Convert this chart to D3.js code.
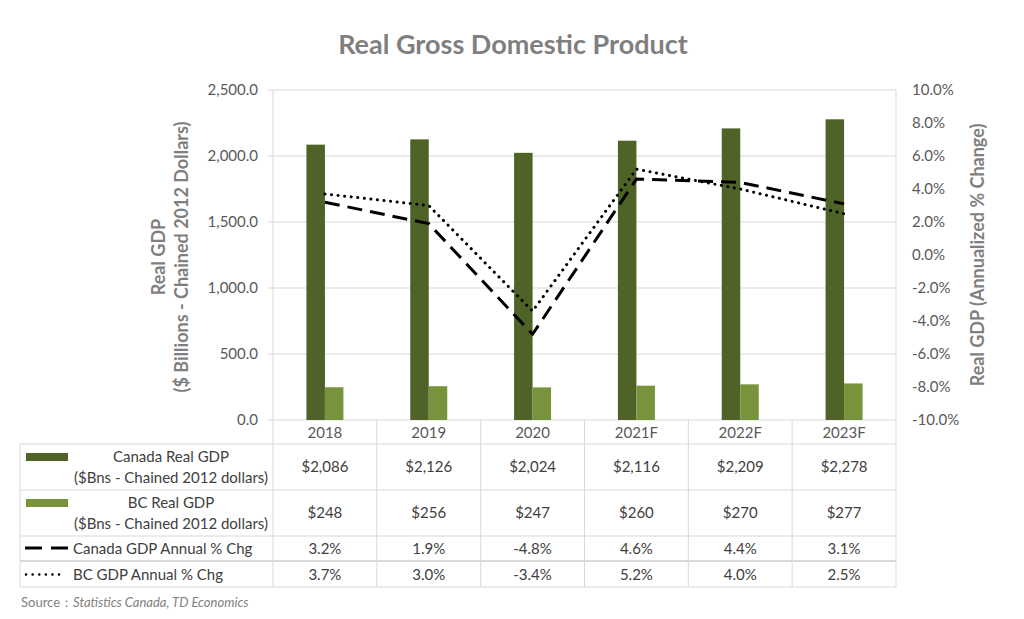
<!DOCTYPE html>
<html>
<head>
<meta charset="utf-8">
<script src="https://cdn.jsdelivr.net/npm/d3@7"></script>
<style>
  body { margin: 0; background: #fff; }
  text { font-family: Lato, "Open Sans", sans-serif; }
</style>
</head>
<body>
<div id="chart"></div>
<script>
// Data
var years = ["2018", "2019", "2020", "2021F", "2022F", "2023F"];
var canadaGdp = [2086, 2126, 2024, 2116, 2209, 2278];
var bcGdp = [248, 256, 247, 260, 270, 277];
var canadaChg = [3.2, 1.9, -4.8, 4.6, 4.4, 3.1];
var bcChg = [3.7, 3.0, -3.4, 5.2, 4.0, 2.5];
var leftTicks = [0, 500, 1000, 1500, 2000, 2500];
var rightTicks = [-10, -8, -6, -4, -2, 0, 2, 4, 6, 8, 10];

// Svg dimensions
var svgWidth = 1024;
var svgHeight = 619;

// Plot area
var plot = { left: 273, right: 896, top: 90, bottom: 420 };

var darkGreen = "#4f6228";
var lightGreen = "#77933c";
var gridColor = "#d9d9d9";
var textColor = "#595959";
var titleColor = "#7f7f7f";

// hyphen-minus like the original
var locale = d3.formatLocale({ decimal: ".", thousands: ",", grouping: [3], currency: ["$", ""], minus: "-" });
var fmt1 = locale.format(".1f");
var fmtComma = locale.format(",");
var fmtComma1 = locale.format(",.1f");

var svg = d3.select("#chart").append("svg")
    .attr("width", svgWidth)
    .attr("height", svgHeight);

// Scales
var xScale = d3.scaleBand()
    .domain(years)
    .range([plot.left, plot.right])
    .padding(0);

var yLeft = d3.scaleLinear()
    .domain([0, 2500])
    .range([plot.bottom, plot.top]);

var yRight = d3.scaleLinear()
    .domain([-10, 10])
    .range([plot.bottom, plot.top]);

var barW = 18.5;

// Title
svg.append("text")
    .attr("x", 513)
    .attr("y", 54)
    .attr("text-anchor", "middle")
    .attr("font-size", "27px")
    .attr("font-weight", "bold")
    .attr("fill", titleColor)
    .text("Real Gross Domestic Product");

// Gridlines (left axis)
svg.append("g")
    .selectAll("line")
    .data(leftTicks)
    .enter()
    .append("line")
    .attr("x1", plot.left - 5)
    .attr("x2", plot.right)
    .attr("y1", d => yLeft(d))
    .attr("y2", d => yLeft(d))
    .attr("stroke", gridColor)
    .attr("stroke-width", 1);

// Plot left/right borders
svg.append("line")
    .attr("x1", plot.left).attr("x2", plot.left)
    .attr("y1", plot.top).attr("y2", plot.bottom)
    .attr("stroke", gridColor);
svg.append("line")
    .attr("x1", plot.right).attr("x2", plot.right)
    .attr("y1", plot.top).attr("y2", plot.bottom)
    .attr("stroke", gridColor);

// Left axis
var leftAxis = d3.axisLeft(yLeft)
    .tickValues(leftTicks)
    .tickFormat(fmtComma1)
    .tickSize(0)
    .tickPadding(15);

var gLeft = svg.append("g")
    .attr("transform", `translate(${plot.left}, 0)`)
    .call(leftAxis);
gLeft.select(".domain").remove();
gLeft.selectAll("text")
    .attr("font-size", "15px")
    .attr("fill", textColor)
    .style("font-family", "Lato, sans-serif");

// Right axis
var rightAxis = d3.axisRight(yRight)
    .tickValues(rightTicks)
    .tickFormat(d => fmt1(d) + "%")
    .tickSize(0)
    .tickPadding(16);

var gRight = svg.append("g")
    .attr("transform", `translate(${plot.right}, 0)`)
    .call(rightAxis);
gRight.select(".domain").remove();
gRight.selectAll("text")
    .attr("font-size", "15px")
    .attr("fill", textColor)
    .style("font-family", "Lato, sans-serif");

// Axis titles
var leftTitle = svg.append("text")
    .attr("transform", "translate(165, 257) rotate(-90)")
    .attr("text-anchor", "middle")
    .attr("font-size", "18px")
    .attr("font-weight", "bold")
    .attr("fill", titleColor);
leftTitle.append("tspan").attr("x", 0).attr("y", 0).text("Real GDP");
leftTitle.append("tspan").attr("x", 0).attr("y", 23).text("($ Billions - Chained 2012 Dollars)");

svg.append("text")
    .attr("transform", "translate(984, 255) rotate(-90)")
    .attr("text-anchor", "middle")
    .attr("font-size", "18px")
    .attr("font-weight", "bold")
    .attr("fill", titleColor)
    .text("Real GDP (Annualized % Change)");

// Bars
svg.append("g")
    .selectAll("rect")
    .data(years)
    .enter()
    .append("rect")
    .attr("x", (d, i) => xScale(d) + xScale.bandwidth() / 2 - barW)
    .attr("y", (d, i) => yLeft(canadaGdp[i]))
    .attr("width", barW)
    .attr("height", (d, i) => yLeft(0) - yLeft(canadaGdp[i]))
    .attr("fill", darkGreen);

svg.append("g")
    .selectAll("rect")
    .data(years)
    .enter()
    .append("rect")
    .attr("x", (d, i) => xScale(d) + xScale.bandwidth() / 2)
    .attr("y", (d, i) => yLeft(bcGdp[i]))
    .attr("width", barW)
    .attr("height", (d, i) => yLeft(0) - yLeft(bcGdp[i]))
    .attr("fill", lightGreen);

// Lines
var line = d3.line()
    .x(d => xScale(d.year) + xScale.bandwidth() / 2)
    .y(d => yRight(d.value));

var canadaPts = years.map((y, i) => ({ year: y, value: canadaChg[i] }));
var bcPts = years.map((y, i) => ({ year: y, value: bcChg[i] }));

svg.append("path")
    .datum(canadaPts)
    .attr("d", line)
    .attr("fill", "none")
    .attr("stroke", "#000")
    .attr("stroke-width", 3)
    .attr("stroke-dasharray", "15 8");

svg.append("path")
    .datum(bcPts)
    .attr("d", line)
    .attr("fill", "none")
    .attr("stroke", "#000")
    .attr("stroke-width", 3)
    .attr("stroke-linecap", "round")
    .attr("stroke-dasharray", "0.1 6.5");

// Data table
var tableLeft = 20;
var rowLines = [444, 490, 536, 561, 587];

var table = svg.append("g");

// horizontal rules
table.selectAll(".hrule")
    .data(rowLines)
    .enter()
    .append("line")
    .attr("x1", tableLeft)
    .attr("x2", plot.right)
    .attr("y1", d => d)
    .attr("y2", d => d)
    .attr("stroke", gridColor)
    .attr("stroke-width", (d, i) => i === 3 ? 2 : 1);

// vertical rules (category separators)
var sepX = years.map(d => xScale(d)).concat([plot.right]);
table.selectAll(".vrule")
    .data(sepX)
    .enter()
    .append("line")
    .attr("x1", d => d)
    .attr("x2", d => d)
    .attr("y1", plot.bottom)
    .attr("y2", rowLines[4])
    .attr("stroke", gridColor);

table.append("line")
    .attr("x1", tableLeft).attr("x2", tableLeft)
    .attr("y1", rowLines[0]).attr("y2", rowLines[4])
    .attr("stroke", gridColor);

// category labels
table.selectAll(".cat")
    .data(years)
    .enter()
    .append("text")
    .attr("x", d => xScale(d) + xScale.bandwidth() / 2)
    .attr("y", 438)
    .attr("text-anchor", "middle")
    .attr("font-size", "15px")
    .attr("fill", textColor)
    .text(d => d);

// table values
var rows = [
    { values: canadaGdp, fmt: d => "$" + fmtComma(d), y: 472 },
    { values: bcGdp, fmt: d => "$" + fmtComma(d), y: 518 },
    { values: canadaChg, fmt: d => fmt1(d) + "%", y: 554 },
    { values: bcChg, fmt: d => fmt1(d) + "%", y: 580 }
];

rows.forEach(function(row) {
    table.append("g")
        .selectAll("text")
        .data(years)
        .enter()
        .append("text")
        .attr("x", d => xScale(d) + xScale.bandwidth() / 2)
        .attr("y", row.y)
        .attr("text-anchor", "middle")
        .attr("font-size", "15px")
        .attr("fill", "#404040")
        .text((d, i) => row.fmt(row.values[i]));
});

// legend keys
table.append("rect")
    .attr("x", 26).attr("y", 453).attr("width", 42).attr("height", 8)
    .attr("fill", darkGreen);
table.append("rect")
    .attr("x", 26).attr("y", 499).attr("width", 42).attr("height", 8)
    .attr("fill", lightGreen);
table.append("line")
    .attr("x1", 25).attr("x2", 69).attr("y1", 548).attr("y2", 548)
    .attr("stroke", "#000").attr("stroke-width", 3)
    .attr("stroke-dasharray", "17 9");
table.append("line")
    .attr("x1", 26).attr("x2", 64).attr("y1", 574.5).attr("y2", 574.5)
    .attr("stroke", "#000").attr("stroke-width", 2.5)
    .attr("stroke-linecap", "round")
    .attr("stroke-dasharray", "0.1 6.5");

// legend labels
var legendText = [
    { lines: ["Canada Real GDP", "($Bns - Chained 2012 dollars)"], y: 462 },
    { lines: ["BC Real GDP", "($Bns - Chained 2012 dollars)"], y: 508 }
];
legendText.forEach(function(l) {
    var t = table.append("text")
        .attr("text-anchor", "middle")
        .attr("font-size", "15px")
        .attr("fill", "#404040");
    t.append("tspan").attr("x", 171).attr("y", l.y).text(l.lines[0]);
    t.append("tspan").attr("x", 171).attr("y", l.y + 21).text(l.lines[1]);
});

table.append("text")
    .attr("x", 73).attr("y", 554)
    .attr("font-size", "15px")
    .attr("fill", "#404040")
    .text("Canada GDP Annual % Chg");
table.append("text")
    .attr("x", 73).attr("y", 580)
    .attr("font-size", "15px")
    .attr("fill", "#404040")
    .text("BC GDP Annual % Chg");

// Source
var src = svg.append("text")
    .attr("x", 21).attr("y", 607)
    .attr("font-size", "13px")
    .attr("fill", "#7f7f7f");
src.append("tspan").text("Source：");
src.append("tspan").attr("font-style", "italic").text("Statistics Canada,  TD Economics");
</script>
</body>
</html>
